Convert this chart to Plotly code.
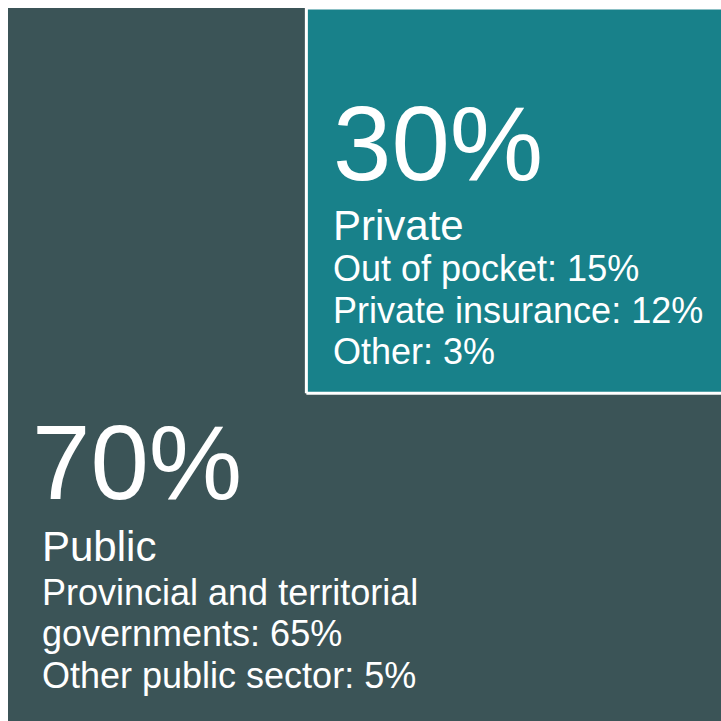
import plotly.graph_objects as go

# ---- data ----
groups = ["Public", "Private"]
shares = [70, 30]  # percent of total
share_labels = ["70%", "30%"]
public_details = ["Provincial and territorial", "governments: 65%", "Other public sector: 5%"]
private_details = ["Out of pocket: 15%", "Private insurance: 12%", "Other: 3%"]

# ---- layout constants ----
W = H = 721
ML, MT = 8, 8
S = 813.0                      # pixels per data unit (total square extends past the window)
PRIVATE_W = 0.633              # width fraction of the private block (top-right corner)
DARK = "rgb(59,84,87)"
TEAL = "rgb(24,129,138)"
FONT = "Arial, 'Liberation Sans', sans-serif"

def dx(px):
    return (px - ML) / S

def dy(py):
    return 1 - (py - MT) / S

priv_share = shares[1] / 100.0
pw = PRIVATE_W
ph = priv_share / pw

fig = go.Figure()
# Public: L-shaped remainder of the total square
fig.add_trace(go.Scatter(
    x=[0, 1, 1, 1 - pw, 1 - pw, 0, 0],
    y=[0, 0, 1 - ph, 1 - ph, 1, 1, 0],
    fill="toself", fillcolor=DARK, mode="lines",
    line=dict(color=DARK, width=0), hoverinfo="skip", showlegend=False))
# Private: top-right block
fig.add_trace(go.Scatter(
    x=[1 - pw, 1, 1, 1 - pw, 1 - pw],
    y=[1 - ph, 1 - ph, 1, 1, 1 - ph],
    fill="toself", fillcolor=TEAL, mode="lines",
    line=dict(color="white", width=3), hoverinfo="skip", showlegend=False))

def k_off(fs):
    return 0.35 * fs

def add_text(txt, px, baseline, fs):
    fig.add_annotation(
        x=dx(px), y=dy(baseline - k_off(fs)), xref="x", yref="y",
        text=txt, showarrow=False, xanchor="left", yanchor="middle",
        borderpad=0, font=dict(family=FONT, size=fs, color="white"))

# Private block text
add_text(share_labels[1], 332, 180, 105)
add_text(groups[1], 332, 240, 42)
for t, b in zip(private_details, [281, 323, 364]):
    add_text(t, 332, b, 36)

# Public block text
add_text(share_labels[0], 31, 499, 105)
add_text(groups[0], 41, 561, 42)
for t, b in zip(public_details, [605, 646, 688]):
    add_text(t, 41, b, 36)

fig.update_layout(
    width=W, height=H, autosize=False,
    margin=dict(l=ML, r=0, t=MT, b=0, pad=0),
    paper_bgcolor="white", plot_bgcolor="white",
    xaxis=dict(range=[0, (W - ML) / S], visible=False, fixedrange=True),
    yaxis=dict(range=[1 - (H - MT) / S, 1], visible=False, fixedrange=True),
    showlegend=False,
)

fig.write_html(
    "out.html",
    config={"displayModeBar": False},
    post_script="document.body.style.margin='0';document.body.style.overflow='hidden';",
)
